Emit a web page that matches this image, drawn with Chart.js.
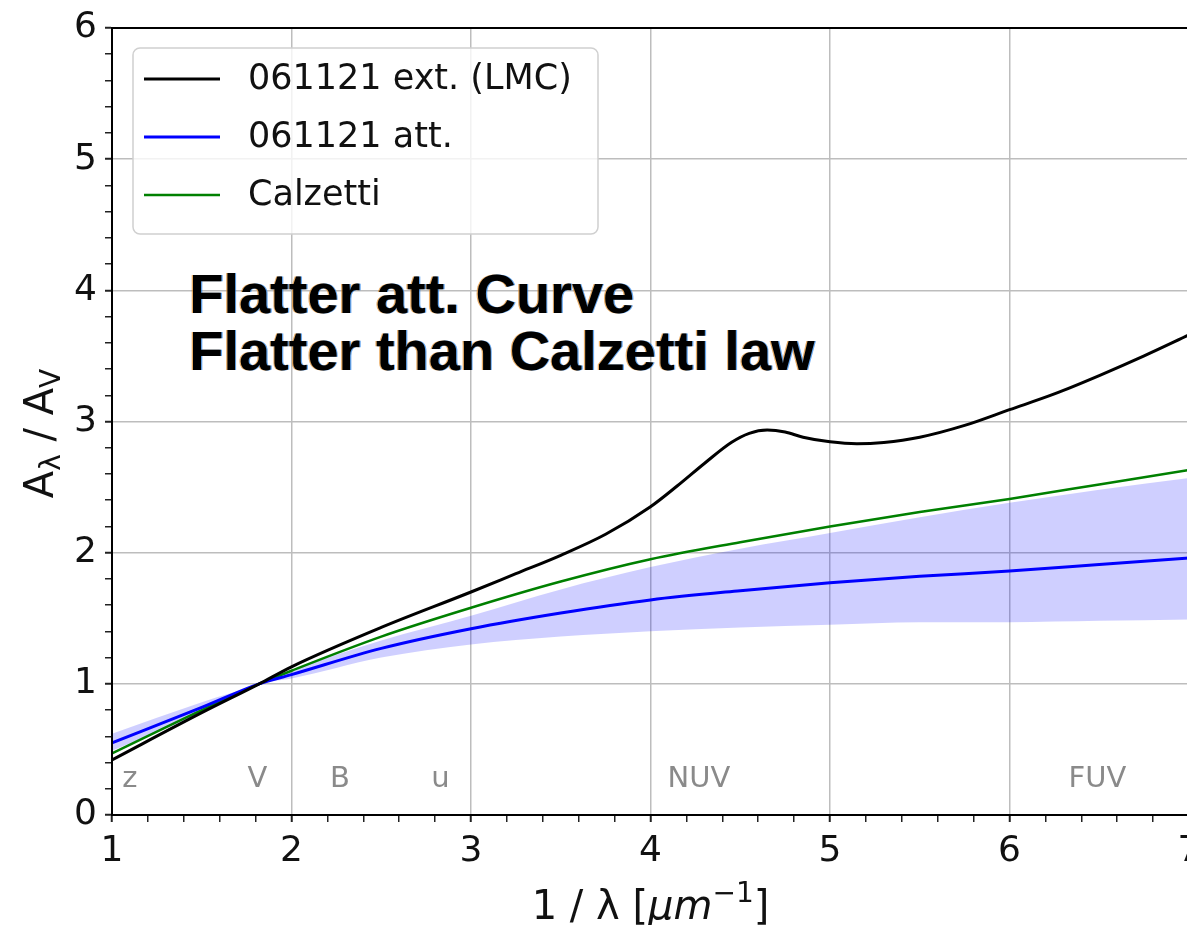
<!DOCTYPE html>
<html>
<head>
<meta charset="utf-8">
<script src="https://cdn.jsdelivr.net/npm/chart.js@4.4.1/dist/chart.umd.min.js"></script>
<style>
  html, body { margin: 0; padding: 0; background: #fff; overflow: hidden; }
  #wrap { width: 1200px; height: 925px; position: relative; }
</style>
</head>
<body>
<div id="wrap"><canvas id="chart"></canvas></div>
<script>
// LMC extinction curve (061121)
let lmcX = [1.0, 1.5, 1.82, 2.0, 2.5, 3.0, 3.25, 3.5, 3.75, 4.0, 4.15, 4.3, 4.45, 4.55, 4.65, 4.75, 4.85, 5.0, 5.15, 5.3, 5.5, 5.75, 6.0, 6.25, 6.5, 6.75, 7.0];
let lmcY = [0.42, 0.78, 1.0, 1.13, 1.43, 1.70, 1.84, 1.98, 2.14, 2.35, 2.51, 2.68, 2.84, 2.91, 2.935, 2.92, 2.88, 2.845, 2.83, 2.84, 2.88, 2.97, 3.09, 3.21, 3.35, 3.50, 3.66];

// attenuation curves on a shared 1/lambda grid
let gridX   = [1.0, 1.5, 1.82, 2.0, 2.5, 3.0, 3.5, 4.0, 4.5, 5.0, 5.5, 6.0, 6.5, 7.0];
let attY    = [0.55, 0.82, 1.0, 1.07, 1.27, 1.42, 1.54, 1.64, 1.71, 1.77, 1.82, 1.86, 1.91, 1.96];
let attLow  = [0.49, 0.78, 1.0, 1.04, 1.20, 1.30, 1.36, 1.40, 1.43, 1.45, 1.47, 1.47, 1.48, 1.49];
let attHigh = [0.62, 0.86, 1.0, 1.10, 1.33, 1.52, 1.72, 1.89, 2.03, 2.15, 2.27, 2.38, 2.48, 2.57];
let calzY   = [0.47, 0.80, 1.0, 1.10, 1.36, 1.58, 1.78, 1.95, 2.08, 2.20, 2.31, 2.41, 2.52, 2.63];

// filter names along the bottom
let bandNames = ["z", "V", "B", "u", "NUV", "FUV"];
let bandX = [1.10, 1.81, 2.27, 2.83, 4.27, 6.49];
let bandLabelY = 0.21;

let noteLines = ["Flatter att. Curve", "Flatter than Calzetti law"];
let noteX = 1.43;
let noteY = [3.83, 3.39];

function pts(xs, ys) {
    return xs.map((x, i) => ({ x: x, y: ys[i] }));
}

function isMajor(v) {
    return Math.abs(v - Math.round(v)) < 1e-6;
}

Chart.defaults.font.family = "'DejaVu Sans'";
Chart.defaults.color = "#000";

// black frame round the plot
const framePlugin = {
    id: "frame",
    afterDraw(chart) {
        const a = chart.chartArea, ctx = chart.ctx;
        ctx.save();
        ctx.strokeStyle = "#000";
        ctx.lineWidth = 2;
        ctx.strokeRect(a.left, a.top, a.right - a.left, a.bottom - a.top);
        ctx.restore();
    }
};

// band names and the bold note
const textPlugin = {
    id: "texts",
    afterDatasetsDraw(chart) {
        const ctx = chart.ctx, xs = chart.scales.x, ys = chart.scales.y;
        ctx.save();
        ctx.font = "29px 'DejaVu Sans'";
        ctx.fillStyle = "#8a8a8a";
        ctx.textAlign = "center";
        ctx.textBaseline = "alphabetic";
        bandNames.forEach((n, i) => {
            ctx.fillText(n, xs.getPixelForValue(bandX[i]), ys.getPixelForValue(bandLabelY));
        });

        ctx.font = "bold 56px 'Liberation Sans'";
        ctx.textAlign = "left";
        noteLines.forEach((t, i) => {
            const px = xs.getPixelForValue(noteX), py = ys.getPixelForValue(noteY[i]);
            ctx.fillStyle = "rgba(220,120,0,0.6)";
            ctx.fillText(t, px - 1.2, py);
            ctx.fillStyle = "rgba(0,110,230,0.6)";
            ctx.fillText(t, px + 1.2, py);
            ctx.fillStyle = "#000";
            ctx.fillText(t, px, py);
        });
        ctx.restore();
    }
};

// legend box inside the plot, top left
const legendPlugin = {
    id: "legendBox",
    afterDraw(chart) {
        const ctx = chart.ctx, a = chart.chartArea;
        const items = chart.data.datasets.filter(d => !d.noLegend);
        const bx = a.left + 21, by = a.top + 20, bw = 465, bh = 186;
        ctx.save();
        ctx.beginPath();
        ctx.roundRect(bx, by, bw, bh, 7);
        ctx.fillStyle = "rgba(255,255,255,0.8)";
        ctx.fill();
        ctx.strokeStyle = "#d0d0d0";
        ctx.lineWidth = 1.5;
        ctx.stroke();
        ctx.font = "35px 'DejaVu Sans'";
        ctx.textBaseline = "middle";
        ctx.fillStyle = "#111";
        items.forEach((d, i) => {
            const y = by + 31 + i * 58;
            ctx.beginPath();
            ctx.moveTo(bx + 11, y);
            ctx.lineTo(bx + 87, y);
            ctx.strokeStyle = d.borderColor;
            ctx.lineWidth = d.borderWidth;
            ctx.stroke();
            ctx.fillText(d.label, bx + 115, y + 1);
        });
        ctx.restore();
    }
};

// axis titles with sub/superscripts
function drawParts(ctx, parts, x, y) {
    let total = 0;
    parts.forEach(p => { ctx.font = p.font; total += ctx.measureText(p.t).width; });
    let cx = x - total / 2;
    parts.forEach(p => {
        ctx.font = p.font;
        ctx.fillText(p.t, cx, y + (p.dy || 0));
        cx += ctx.measureText(p.t).width;
    });
}

const titlePlugin = {
    id: "axisTitles",
    afterDraw(chart) {
        const ctx = chart.ctx, a = chart.chartArea;
        ctx.save();
        ctx.fillStyle = "#111";
        ctx.textBaseline = "alphabetic";
        ctx.textAlign = "left";
        drawParts(ctx, [
            { t: "1 / \u03bb [", font: "40px 'DejaVu Sans'" },
            { t: "\u03bcm", font: "oblique 40px 'DejaVu Sans'" },
            { t: "\u22121", font: "28px 'DejaVu Sans'", dy: -17 },
            { t: "]", font: "40px 'DejaVu Sans'" }
        ], (a.left + a.right) / 2, 919);

        ctx.translate(53, (a.top + a.bottom) / 2 + 12);
        ctx.rotate(-Math.PI / 2);
        drawParts(ctx, [
            { t: "A", font: "40px 'DejaVu Sans'" },
            { t: "\u03bb", font: "28px 'DejaVu Sans'", dy: 7 },
            { t: " / A", font: "40px 'DejaVu Sans'" },
            { t: "V", font: "28px 'DejaVu Sans'", dy: 7 }
        ], 0, 0);
        ctx.restore();
    }
};

function axis(min, max) {
    return {
        type: "linear",
        min: min,
        max: max,
        ticks: {
            stepSize: 0.2,
            autoSkip: false,
            maxRotation: 0,
            font: { size: 36 },
            color: "#111",
            padding: 8,
            callback: v => isMajor(v) ? String(Math.round(v)) : ""
        },
        grid: {
            color: c => isMajor(c.tick.value) ? "#bdbdbd" : "rgba(0,0,0,0)",
            lineWidth: 1.5,
            tickColor: "#222",
            tickLength: 7,
            tickWidth: c => isMajor(c.tick.value) ? 2 : 1.5
        },
        border: { color: "#000", width: 2 }
    };
}

const xAxis = axis(1, 7);
xAxis.afterFit = s => { s.height = 110; s.paddingLeft = 0; s.paddingRight = 0; };
const yAxis = axis(0, 6);
yAxis.afterFit = s => { s.width = 112; s.paddingTop = 0; s.paddingBottom = 0; };

new Chart(document.getElementById("chart"), {
    type: "line",
    data: {
        datasets: [
            { label: "061121 ext. (LMC)", data: pts(lmcX, lmcY), borderColor: "#000", borderWidth: 3 },
            { label: "061121 att.", data: pts(gridX, attY), borderColor: "#0000ff", borderWidth: 3 },
            { label: "Calzetti", data: pts(gridX, calzY), borderColor: "#008000", borderWidth: 2.5 },
            { label: "att. low", noLegend: true, data: pts(gridX, attLow), borderWidth: 0, borderColor: "rgba(0,0,0,0)", fill: false },
            { label: "att. high", noLegend: true, data: pts(gridX, attHigh), borderWidth: 0, borderColor: "rgba(0,0,0,0)",
              fill: 3, backgroundColor: "rgba(0,0,255,0.19)" }
        ]
    },
    options: {
        responsive: true,
        maintainAspectRatio: false,
        animation: false,
        events: [],
        layout: { padding: { top: 28, right: 11, bottom: 0, left: 0 } },
        elements: {
            point: { radius: 0 },
            line: { cubicInterpolationMode: "monotone", fill: false }
        },
        scales: { x: xAxis, y: yAxis },
        plugins: {
            legend: { display: false },
            tooltip: { enabled: false }
        }
    },
    plugins: [textPlugin, legendPlugin, framePlugin, titlePlugin]
});
</script>
</body>
</html>
